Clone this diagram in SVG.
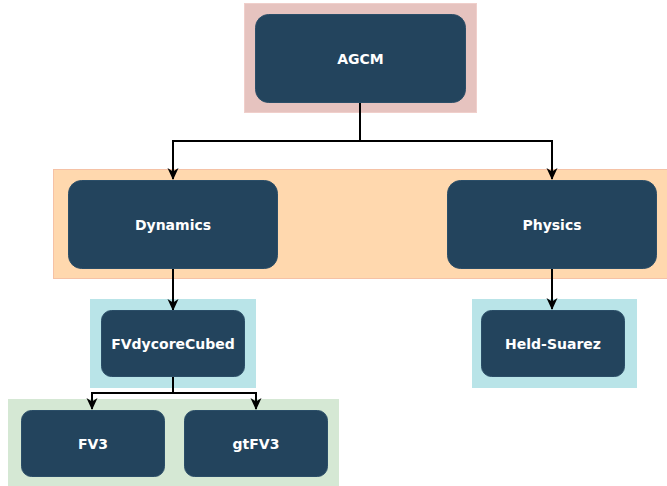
<svg xmlns="http://www.w3.org/2000/svg" width="667" height="486" viewBox="0 0 667 486">
  <defs>
    <marker id="arrow" viewBox="0 0 12 12" refX="11" refY="6" markerWidth="12" markerHeight="12" markerUnits="userSpaceOnUse" orient="auto">
      <path d="M0,0.5 L12,6 L0,11.5 L3.5,6 Z" fill="#000"/>
    </marker>
  </defs>
  <style>
    .node rect { fill: #23445d; stroke: #2b4e68; stroke-width: 1; }
    .node text { fill: #ffffff; font-family: "DejaVu Sans", Verdana, sans-serif; font-weight: bold; font-size: 14px; text-anchor: middle; dominant-baseline: central; }
    .edge { fill: none; stroke: #000; stroke-width: 2; }
  </style>

  <!-- group backgrounds -->
  <g id="bands">
    <rect x="244.5" y="3.5" width="232" height="109" fill="#e6c3bf" stroke="#f0cfcb"/>
    <rect x="53.5" y="169.5" width="620" height="109" fill="#ffd8ae" stroke="#f5c2a6"/>
    <rect x="90" y="299" width="166" height="89" fill="#b9e4e8"/>
    <rect x="472" y="299" width="165" height="89" fill="#b9e4e8"/>
    <rect x="8" y="399" width="331" height="90" fill="#d5e8d4"/>
  </g>

  <!-- connectors -->
  <g id="connectors">
    <path class="edge" d="M360,102 V141 H173 V179" marker-end="url(#arrow)"/>
    <path class="edge" d="M360,141 H552 V179" marker-end="url(#arrow)"/>
    <path class="edge" d="M173,268 V310" marker-end="url(#arrow)"/>
    <path class="edge" d="M552,268 V309" marker-end="url(#arrow)"/>
    <path class="edge" d="M173,377 V393 H92 V409" marker-end="url(#arrow)"/>
    <path class="edge" d="M173,393 H256 V409" marker-end="url(#arrow)"/>
  </g>

  <g id="agcm" class="node">
    <rect x="255.5" y="14.5" width="210" height="88" rx="13"/>
    <text x="360.5" y="58.5">AGCM</text>
  </g>
  <g id="dynamics" class="node">
    <rect x="68.5" y="180.5" width="209" height="88" rx="13"/>
    <text x="173" y="224.5">Dynamics</text>
  </g>
  <g id="physics" class="node">
    <rect x="447.5" y="180.5" width="209" height="88" rx="13"/>
    <text x="552" y="224.5">Physics</text>
  </g>
  <g id="fvdycorecubed" class="node">
    <rect x="101.5" y="310.5" width="143" height="66" rx="10"/>
    <text x="173" y="343.5">FVdycoreCubed</text>
  </g>
  <g id="held-suarez" class="node">
    <rect x="481.5" y="310.5" width="143" height="66" rx="10"/>
    <text x="553" y="343.5">Held-Suarez</text>
  </g>
  <g id="fv3" class="node">
    <rect x="21.5" y="410.5" width="143" height="66" rx="10"/>
    <text x="93" y="443.5">FV3</text>
  </g>
  <g id="gtfv3" class="node">
    <rect x="184.5" y="410.5" width="143" height="66" rx="10"/>
    <text x="256" y="443.5">gtFV3</text>
  </g>
</svg>
